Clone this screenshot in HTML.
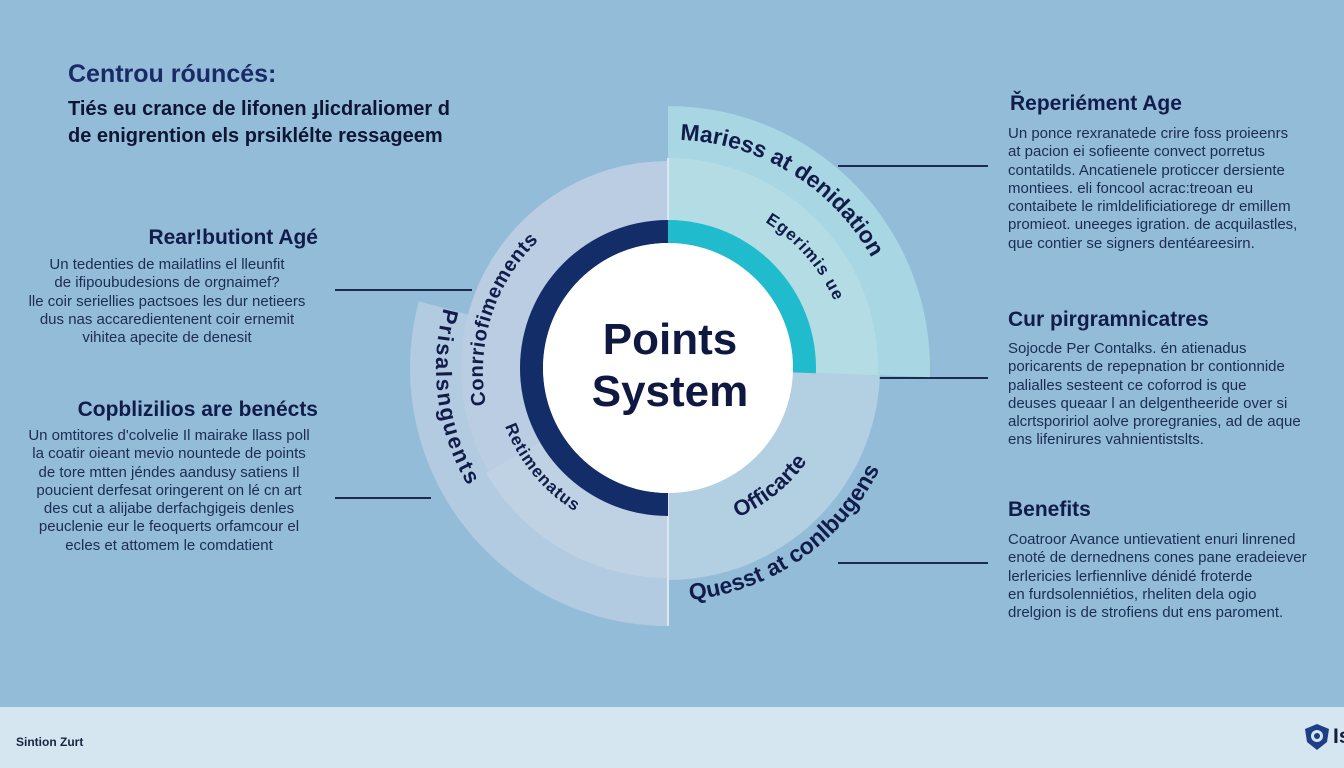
<!DOCTYPE html>
<html><head><meta charset="utf-8"><style>
html,body{margin:0;padding:0}
body{width:1344px;height:768px;position:relative;overflow:hidden;background:#92bcd8;font-family:"Liberation Sans",sans-serif;color:#15224f}
.t{position:absolute;white-space:nowrap}
.h{font-weight:bold;font-size:21px;color:#121c4a}
.b{font-size:15px;line-height:18.3px;color:#1d2b55}
.r{text-align:right}
.c{text-align:center}
.ln{position:absolute;height:1.5px;background:#1e2a4e}
</style></head><body>
<div class="t" style="left:68px;top:60px;font-size:25px;font-weight:bold;color:#1a2a66">Centrou róuncés:</div>
<div class="t" style="left:68px;top:96px;font-size:20px;font-weight:bold;line-height:27px;color:#0f1535">Tiés eu crance de lifonen ɟlicdraliomer d<br>de enigrention els prsiklélte ressageem</div>

<div class="t h r" style="right:1026px;top:226px">Rear!butiont Agé</div>
<div class="t b c" style="left:14px;width:306px;top:256px">Un tedenties de mailatlins el lleunfit<br>de ifipoubudesions de orgnaimef?<br>lle coir seriellies pactsoes les dur netieers<br>dus nas accaredientenent coir ernemit<br>vihitea apecite de denesit</div>
<div class="ln" style="left:335px;top:289px;width:137px"></div>

<div class="t h r" style="right:1026px;top:398px">Copblizilios are benécts</div>
<div class="t b c" style="left:16px;width:306px;top:427px">Un omtitores d'colvelie Il mairake llass poll<br>la coatir oieant mevio nountede de points<br>de tore mtten jéndes aandusy satiens Il<br>poucient derfesat oringerent on lé cn art<br>des cut a alijabe derfachgigeis denles<br>peuclenie eur le feoquerts orfamcour el<br>ecles et attomem le comdatient</div>
<div class="ln" style="left:335px;top:497px;width:96px"></div>

<div class="t h" style="left:1010px;top:92px">Řeperiément Age</div>
<div class="t b" style="left:1008px;top:125px">Un ponce rexranatede crire foss proieenrs<br>at pacion ei sofieente convect porretus<br>contatilds. Ancatienele proticcer dersiente<br>montiees. eli foncool acrac:treoan eu<br>contaibete le rimldelificiatiorege dr emillem<br>promieot. uneeges igration. de acquilastles,<br>que contier se signers dentéareesirn.</div>
<div class="ln" style="left:838px;top:165px;width:150px"></div>

<div class="t h" style="left:1008px;top:308px">Cur pirgramnicatres</div>
<div class="t b" style="left:1008px;top:340px">Sojocde  Per Contalks. én atienadus<br>poricarents de repepnation br contionnide<br>palialles sesteent ce coforrod is que<br>deuses queaar l an delgentheeride over si<br>alcrtspoririol aolve proregranies,  ad de aque<br>ens lifenirures vahnientistslts.</div>
<div class="ln" style="left:876px;top:377px;width:112px"></div>

<div class="t h" style="left:1008px;top:498px">Benefits</div>
<div class="t b" style="left:1008px;top:531px">Coatroor Avance untievatient enuri linrened<br>enoté de dernednens cones pane eradeiever<br>lerlericies lerfiennlive dénidé froterde<br>en furdsolenniétios, rheliten dela ogio<br>drelgion is de strofiens dut ens paroment.</div>
<div class="ln" style="left:838px;top:562px;width:150px"></div>

<svg width="1344" height="768" style="position:absolute;left:0;top:0">
<path d="M668,368 L668,106 A262,262 0 0 1 929.8,377.1 Z" fill="#a8d6e2"/>
<path d="M668,368 L668,158 A210,210 0 0 1 877.9,375.3 Z" fill="#b3dce4"/>
<path d="M668,368 L879.9,375.4 A212,212 0 0 1 668,580 Z" fill="#b3cfe2"/>
<path d="M668,368 L668,626 A258,258 0 0 1 418.8,301.2 Z" fill="#b2cbe0"/>
<path d="M668,368 L668,578 A210,210 0 0 1 486.1,473 Z" fill="#bed2e4"/>
<path d="M668,368 L488.7,471.5 A207,207 0 0 1 668,161 Z" fill="#bacde2"/>
<line x1="668" y1="158" x2="668" y2="626" stroke="#dbe6ef" stroke-width="2"/>
<path d="M668,516 A148,148 0 0 1 668,220 L668,243 A125,125 0 0 0 668,493 Z" fill="#132d68"/>
<path d="M668,220 A148,148 0 0 1 815.9,373.2 L792.9,372.4 A125,125 0 0 0 668,243 Z" fill="#20bccd"/>
<circle cx="668" cy="368" r="125" fill="#ffffff"/>
<text x="670" y="354" text-anchor="middle" font-family="Liberation Sans" font-weight="bold" font-size="44" fill="#0f1840">Points</text>
<text x="670" y="406" text-anchor="middle" font-family="Liberation Sans" font-weight="bold" font-size="44" fill="#0f1840">System</text>
<defs>
<path id="a1" d="M680,140 A228,228 0 0 1 899.1,347.8"/>
<path id="a2" d="M765,222 A178,178 0 0 1 841.9,321.4"/>
<path id="a3" d="M486,405 A182,182 0 0 1 591.9,204.9"/>
<path id="a4" d="M443.9,308 A232,232 0 0 0 600,590"/>
<path id="a5" d="M505,426.1 A170,170 0 0 0 609.9,527.7"/>
<path id="a6" d="M737.7,517.5 A165,165 0 0 0 820,440"/>
<path id="a7" d="M690,600 A238,238 0 0 0 888.8,448.4"/>
</defs>
<g font-family="Liberation Sans" font-weight="bold" fill="#121c4a">
<text font-size="23"><textPath href="#a1">Mariess at denidation</textPath></text>
<text font-size="17" letter-spacing="1"><textPath href="#a2">Egerimis ue</textPath></text>
<text font-size="20" letter-spacing="0.5"><textPath href="#a3">Conrriofimements</textPath></text>
<text font-size="22" letter-spacing="2"><textPath href="#a4">Prisalsnguents</textPath></text>
<text font-size="17" letter-spacing="1"><textPath href="#a5">Retimenatus</textPath></text>
<text font-size="22"><textPath href="#a6">Officarte</textPath></text>
<text font-size="23"><textPath href="#a7">Quesst at conlbugens</textPath></text>
</g>
</svg>

<div style="position:absolute;left:0;top:707px;width:1344px;height:61px;background:#d6e6f1"></div>
<div class="t" style="left:16px;top:735px;font-size:12px;font-weight:bold;color:#1a2440">Sintion Zurt</div>
<svg width="30" height="30" style="position:absolute;left:1302px;top:722px"><path d="M15,2 L27,7 L25,20 L15,28 L5,20 L3,7 Z" fill="#1d3f86"/><circle cx="15" cy="14" r="6" fill="#d6e6f1"/><circle cx="15" cy="14" r="3" fill="#1d3f86"/></svg>
<div class="t" style="left:1333px;top:725px;font-size:21px;font-weight:bold;color:#151d3a">Is</div>
</body></html>
